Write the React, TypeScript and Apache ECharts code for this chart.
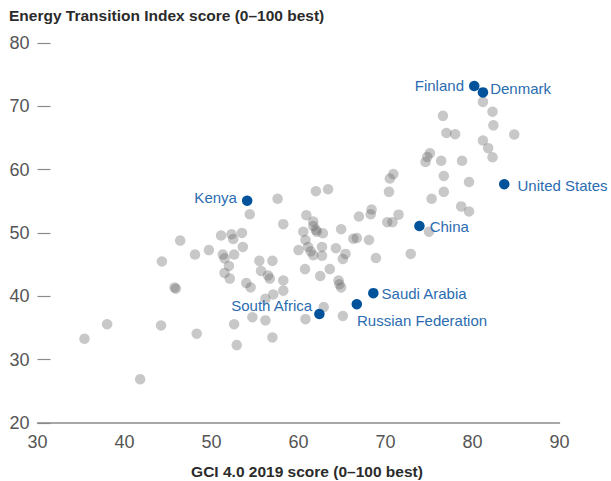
import React, { useEffect, useRef } from "react";
import * as echarts from "echarts";

const FONT = "'Liberation Sans', Arial, Helvetica, sans-serif";

const titleText = "Energy Transition Index score (0–100 best)";
const xAxisTitle = "GCI 4.0 2019 score (0–100 best)";

const xTicks = [30, 40, 50, 60, 70, 80, 90];
const yTicks = [20, 30, 40, 50, 60, 70, 80];

// Other countries (GCI score, ETI score)
const otherGci = [
  35.4, 38.0, 41.8, 44.2, 44.3, 45.75, 45.9, 46.4, 48.1, 48.3,
  49.7, 51.1, 52.3, 52.5, 53.5, 53.6, 51.3, 51.5, 52.6, 52.0,
  51.5, 52.1, 52.6, 52.9, 54.0, 54.5, 54.7, 54.4, 55.5, 57.0,
  55.7, 56.5, 56.7, 56.2, 56.2, 57.0, 57.1, 57.6, 58.25, 58.25,
  58.25, 60.0, 60.55, 60.8, 60.9, 60.75, 60.8, 61.1, 61.4, 61.7,
  61.7, 61.7, 62.0, 62.1, 62.8, 62.7, 62.7, 62.0, 63.4, 62.5,
  63.6, 62.9, 64.3, 65.4, 65.1, 64.9, 64.6, 64.7, 64.9, 65.1,
  66.3, 66.7, 66.95, 68.4, 68.3, 68.1, 68.9, 70.2, 70.8, 71.5,
  70.4, 70.5, 70.9, 72.9, 75.0, 75.3, 76.7, 76.7, 78.7, 79.6,
  79.6, 76.4, 78.8, 74.6, 74.8, 75.1, 76.6, 77.0, 78.0, 81.2,
  81.8, 82.3, 81.2, 82.3, 82.4, 84.8,
];
const otherEti = [
  33.3, 35.6, 26.9, 35.4, 45.5, 41.4, 41.2, 48.8, 46.6, 34.1,
  47.3, 49.6, 49.8, 49.05, 50.0, 47.8, 46.6, 46.0, 46.6, 44.8,
  43.7, 42.8, 35.6, 32.3, 42.1, 41.4, 36.7, 52.95, 45.6, 45.6,
  44.0, 43.3, 42.8, 39.6, 36.2, 33.5, 40.3, 55.4, 51.4, 42.5,
  40.9, 47.3, 50.2, 48.9, 52.8, 44.3, 36.4, 47.8, 47.1, 46.5,
  51.8, 51.1, 50.5, 50.2, 49.95, 47.8, 46.4, 56.6, 56.9, 43.2,
  44.3, 38.3, 47.6, 46.7, 45.9, 50.6, 42.5, 41.9, 41.4, 36.9,
  49.1, 49.2, 52.6, 53.7, 52.95, 48.9, 46.05, 51.7, 51.7, 52.9,
  56.5, 58.6, 59.3, 46.7, 50.2, 55.4, 56.5, 59.0, 54.2, 53.4,
  58.05, 61.4, 61.4, 61.2, 62.0, 62.6, 68.5, 65.8, 65.6, 64.6,
  63.4, 61.95, 70.7, 69.15, 67.0, 65.55,
];

// Highlighted countries
const hlNames = ["Finland", "Denmark", "United States", "China", "Kenya", "Saudi Arabia", "Russian Federation", "South Africa"];
const hlGci = [80.2, 81.2, 83.65, 73.9, 54.1, 68.6, 66.7, 62.4];
const hlEti = [73.2, 72.2, 57.7, 51.1, 55.1, 40.5, 38.75, 37.2];
const hlLabelPos = ["left", "right", "right", "right", "left", "right", "right", "left"];
const hlLabelOffset = [[0, -1], [-3, -4], [3, 1], [0, 0], [0, -3], [-2, 0], [-10, 16], [3, -9]];

export default function App() {
  const ref = useRef<HTMLDivElement>(null);

  useEffect(() => {
    if (!ref.current) return;
    const chart = echarts.init(ref.current, null, { renderer: "svg" });

    const others = otherGci.map((x, i) => [x, otherEti[i]]);
    const highlighted = hlNames.map((name, i) => ({
      name,
      value: [hlGci[i], hlEti[i]],
      label: {
        position: hlLabelPos[i],
        offset: hlLabelOffset[i],
      },
    }));

    chart.setOption({
      animation: false,
      backgroundColor: "#ffffff",
      grid: { left: 37.5, right: 51.5, top: 43, bottom: 58, containLabel: false },
      graphic: [
        {
          type: "text",
          left: 9,
          top: 7,
          style: {
            text: titleText,
            font: `bold 15.5px ${FONT}`,
            fill: "#2b2b2b",
          },
        },
        {
          type: "text",
          x: 307,
          y: 471,
          style: {
            text: xAxisTitle,
            font: `bold 15.5px ${FONT}`,
            fill: "#2b2b2b",
            textAlign: "center",
            textVerticalAlign: "middle",
          },
        },
      ],
      xAxis: {
        type: "value",
        min: xTicks[0],
        max: xTicks[xTicks.length - 1],
        interval: 10,
        axisLine: { show: true, lineStyle: { color: "#8a8a8a", width: 1.5 } },
        axisTick: { show: false },
        splitLine: { show: false },
        axisLabel: {
          fontSize: 18,
          color: "#555555",
          fontFamily: FONT,
          margin: 10,
        },
      },
      yAxis: {
        type: "value",
        min: yTicks[0],
        max: yTicks[yTicks.length - 1],
        interval: 10,
        axisLine: { show: false },
        axisTick: {
          show: true,
          inside: true,
          length: 13,
          lineStyle: { color: "#8a8a8a", width: 1.2 },
        },
        splitLine: { show: false },
        axisLabel: {
          fontSize: 18,
          color: "#555555",
          fontFamily: FONT,
          margin: 8,
        },
      },
      series: [
        {
          type: "scatter",
          data: others,
          symbolSize: 10.5,
          itemStyle: { color: "#626262", opacity: 0.35 },
          silent: true,
          z: 2,
        },
        {
          type: "scatter",
          data: highlighted,
          symbolSize: 10.5,
          itemStyle: { color: "#00529b", opacity: 1 },
          label: {
            show: true,
            formatter: "{b}",
            fontSize: 15,
            fontFamily: FONT,
            color: "#2b6cb0",
            distance: 5,
          },
          silent: true,
          z: 3,
        },
      ],
    });

    return () => chart.dispose();
  }, []);

  return (
    <div
      ref={ref}
      style={{ position: "absolute", left: 0, top: 0, width: 611, height: 481 }}
    />
  );
}
